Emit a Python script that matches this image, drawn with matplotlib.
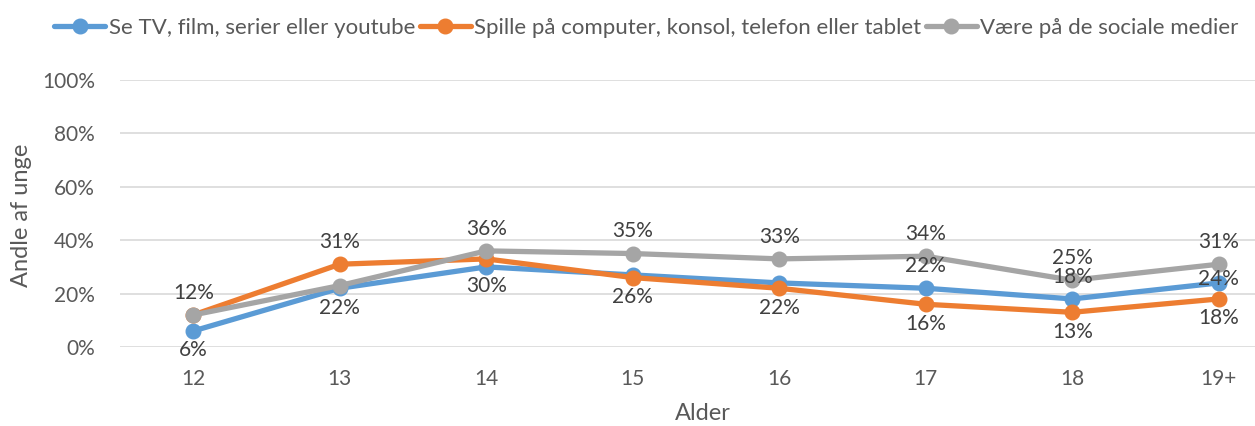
import matplotlib
matplotlib.use("Agg")
import matplotlib.pyplot as plt
from matplotlib.ticker import PercentFormatter

ages = ["12", "13", "14", "15", "16", "17", "18", "19+"]
tv = [6, 22, 30, 27, 24, 22, 18, 24]
games = [12, 31, 33, 26, 22, 16, 13, 18]
social = [12, 23, 36, 35, 33, 34, 25, 31]

series_names = [
    "Se TV, film, serier eller youtube",
    "Spille på computer, konsol, telefon eller tablet",
    "Være på de sociale medier",
]

# where each data label sits: a = above, b = below, c = on point, None = hidden
label_pos = {
    0: ["b", "b", "b", None, None, "a", "a", "c"],
    1: [None, "a", None, "b", "b", "b", "b", "b"],
    2: ["a", None, "a", "a", "a", "a", "a", "a"],
}

colors = ["#5B9BD5", "#ED7D31", "#A5A5A5"]
text_color = "#595959"

plt.rcParams["font.family"] = ["Lato", "DejaVu Sans"]

fig = plt.figure(figsize=(12.55, 4.26), dpi=100)
ax = fig.add_axes([120 / 1255, 79 / 426, 1172 / 1255, 267 / 426])

x = list(range(len(ages)))
for i, vals in enumerate([tv, games, social]):
    ax.plot(x, [v / 100 for v in vals], color=colors[i], lw=3.8, marker="o",
            ms=10.5, label=series_names[i], solid_capstyle="round", zorder=3 + i)
    for xi, v, pos in zip(x, vals, label_pos[i]):
        if pos is None:
            continue
        off = {"a": 16, "b": -14, "c": 3}[pos]
        ax.annotate(f"{v}%", (xi, v / 100), xytext=(0, off), textcoords="offset points",
                    ha="center", va="center", fontsize=15, color="#404040", zorder=10)

ax.set_xlim(-0.5, 7.5)
ax.set_ylim(0, 1)
ax.set_yticks([0, 0.2, 0.4, 0.6, 0.8, 1.0])
ax.yaxis.set_major_formatter(PercentFormatter(1.0, decimals=0))
ax.set_xticks(x)
ax.set_xticklabels(ages)
ax.tick_params(axis="both", length=0, labelsize=15, labelcolor=text_color)
ax.tick_params(axis="x", pad=16)
ax.tick_params(axis="y", pad=18)
ax.grid(axis="y", color="#D9D9D9", lw=1.2)
ax.set_axisbelow(True)
for s in ax.spines.values():
    s.set_visible(False)

fig.text(22 / 1255, 1 - 215 / 426, "Andle af unge", rotation=90, ha="center", va="center",
         fontsize=17, color=text_color)
fig.text(703 / 1255, 1 - 413 / 426, "Alder", ha="center", va="center",
         fontsize=17, color=text_color)

fig.legend(loc="upper center", bbox_to_anchor=(0.515, 0.99), ncol=3, frameon=False,
           fontsize=16, labelcolor=text_color, handlelength=2.3, handletextpad=0.15,
           columnspacing=0.2, borderaxespad=0.2)

fig.savefig("out.png", dpi=100)
